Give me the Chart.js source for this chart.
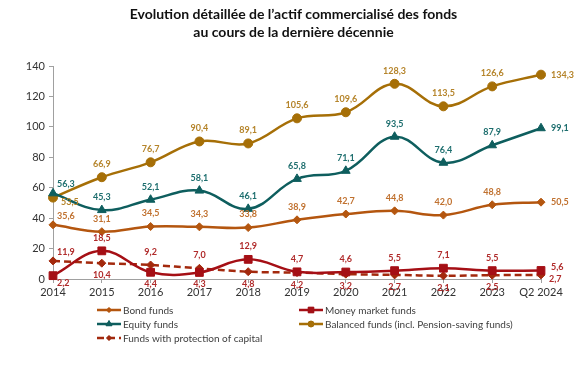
<!DOCTYPE html>
<html lang="fr">
<head>
<meta charset="UTF-8">
<title>Evolution de l'actif commercialisé des fonds</title>
<script src="https://cdn.jsdelivr.net/npm/chart.js"></script>
<style>
    html, body { margin: 0; padding: 0; background: #fff; }
    #wrap { width: 587px; height: 370px; position: relative; }
</style>
</head>
<body>
<div id="wrap"><canvas id="chart" width="587" height="370"></canvas></div>
<script>
    // données (milliards EUR)
    const years = ['2014', '2015', '2016', '2017', '2018', '2019', '2020', '2021', '2022', '2023', 'Q2 2024'];
    const bondFunds = [35.6, 31.1, 34.5, 34.3, 33.8, 38.9, 42.7, 44.8, 42.0, 48.8, 50.5];
    const moneyMarket = [2.2, 18.5, 4.4, 4.3, 12.9, 4.7, 4.6, 5.5, 7.1, 5.5, 5.6];
    const equityFunds = [56.3, 45.3, 52.1, 58.1, 46.1, 65.8, 71.1, 93.5, 76.4, 87.9, 99.1];
    const balancedFunds = [53.5, 66.9, 76.7, 90.4, 89.1, 105.6, 109.6, 128.3, 113.5, 126.6, 134.3];
    const protectedFunds = [11.9, 10.4, 9.2, 7.0, 4.8, 4.2, 3.2, 2.7, 2.1, 2.5, 2.7];
    const yTicks = [0, 20, 40, 60, 80, 100, 120, 140];
    const titleLines = ['Evolution détaillée de l\u2019actif commercialisé des fonds', 'au cours de la dernière décennie'];

    // où placer les étiquettes de valeur
    const placeBond = ['tr', 't', 't', 't', 't', 't', 't', 't', 't', 't', 'r'];
    const placeMoney = ['br', 't', 'b', 'b', 't', 't', 't', 't', 't', 't', 'ru'];
    const placeEquity = ['tr', 't', 't', 't', 't', 't', 't', 't', 't', 't', 'r'];
    const placeBalanced = ['rd', 't', 't', 't', 't', 't', 't', 't', 't', 't', 'r'];
    const placeProtected = ['tr', 'b', 't', 't', 'b', 'b', 'b', 'b', 'b', 'b', 'rd'];

    const FONT = 'Lato, "Open Sans", sans-serif';

    function serie(label, data, color, labelColor, style, radius, place, dash) {
        return {
            label: label,
            data: data,
            borderColor: color,
            backgroundColor: color,
            pointBackgroundColor: color,
            pointBorderColor: color,
            pointStyle: style,
            pointRadius: radius,
            pointHoverRadius: radius,
            pointBorderWidth: 1,
            borderWidth: 2.5,
            borderDash: dash || [],
            tension: 0.4,
            clip: false,
            fill: false,
            labelColor: labelColor,
            place: place
        };
    }

    const valueLabels = {
        id: 'valueLabels',
        afterDatasetsDraw(chart) {
            const ctx = chart.ctx;
            ctx.save();
            ctx.font = 'bold 9px ' + FONT;
            chart.data.datasets.forEach((ds, i) => {
                const meta = chart.getDatasetMeta(i);
                meta.data.forEach((pt, j) => {
                    const txt = ds.data[j].toFixed(1).replace('.', ',');
                    const p = ds.place[j];
                    let x = pt.x, y = pt.y;
                    ctx.textAlign = 'center';
                    ctx.textBaseline = 'middle';
                    if (p === 't') { y -= 13; }
                    else if (p === 'b') { y += 12; }
                    else if (p === 'r') { x += 10; ctx.textAlign = 'left'; }
                    else if (p === 'ru') { x += 10; y -= 3; ctx.textAlign = 'left'; }
                    else if (p === 'rd') { x += 8; y += 4; ctx.textAlign = 'left'; }
                    else if (p === 'tr') { x += 4; y -= 9; ctx.textAlign = 'left'; }
                    else if (p === 'br') { x += 4; y += 7; ctx.textAlign = 'left'; }
                    ctx.fillStyle = ds.labelColor;
                    ctx.fillText(txt, x, y);
                });
            });
            ctx.restore();
        }
    };

    // titre centré sur toute la largeur du canevas
    const pageTitle = {
        id: 'pageTitle',
        afterDraw(chart) {
            const ctx = chart.ctx;
            ctx.save();
            ctx.font = 'bold 14px ' + FONT;
            ctx.fillStyle = '#111';
            ctx.textAlign = 'center';
            ctx.textBaseline = 'middle';
            titleLines.forEach((t, i) => ctx.fillText(t, chart.width / 2, 14 + i * 18));
            ctx.restore();
        }
    };

    // légende sur deux colonnes, comme dans l'original
    const gridLegend = {
        id: 'gridLegend',
        afterDraw(chart) {
            const ctx = chart.ctx;
            const slots = [[97, 310], [299, 310], [97, 324], [299, 324], [97, 338]];
            ctx.save();
            ctx.font = '10px ' + FONT;
            ctx.textBaseline = 'middle';
            ctx.textAlign = 'left';
            chart.data.datasets.forEach((ds, i) => {
                const [x, y] = slots[i];
                ctx.strokeStyle = ds.borderColor;
                ctx.lineWidth = 2.5;
                ctx.setLineDash(ds.borderDash);
                ctx.beginPath();
                ctx.moveTo(x, y);
                ctx.lineTo(x + 24, y);
                ctx.stroke();
                ctx.setLineDash([]);
                ctx.lineWidth = 1;
                Chart.helpers.drawPoint(ctx, {
                    pointStyle: ds.pointStyle,
                    radius: ds.pointRadius - 1.5,
                    borderWidth: 1
                }, x + 12, y);
                ctx.fillStyle = ds.borderColor;
                ctx.fill();
                ctx.fillStyle = '#404040';
                ctx.fillText(ds.label, x + 26, y + 1);
            });
            ctx.restore();
        }
    };

    new Chart(document.getElementById('chart'), {
        type: 'line',
        data: {
            labels: years,
            datasets: [
                serie('Bond funds', bondFunds, '#B4560F', '#C0712F', 'rectRot', 4, placeBond),
                serie('Money market funds', moneyMarket, '#A50F15', '#B02A2A', 'rect', 5.5, placeMoney),
                serie('Equity funds', equityFunds, '#0E5E5E', '#1D6E6E', 'triangle', 5, placeEquity),
                serie('Balanced funds (incl. Pension-saving funds)', balancedFunds, '#A66F07', '#B5842A', 'circle', 4.5, placeBalanced),
                serie('Funds with protection of capital', protectedFunds, '#A3290D', '#B02A2A', 'rectRot', 4, placeProtected, [7, 4])
            ]
        },
        options: {
            responsive: false,
            animation: false,
            layout: { padding: { left: 0, right: 46, top: 66, bottom: 71 } },
            plugins: {
                legend: { display: false },
                tooltip: { enabled: false },
                title: { display: false }
            },
            scales: {
                x: {
                    offset: false,
                    afterFit: s => { s.height = 20; },
                    grid: { display: true, drawOnChartArea: false, tickLength: 4, color: '#A0A0A0' },
                    border: { color: '#A0A0A0' },
                    ticks: { color: '#333', font: { family: FONT, size: 11 }, padding: 3, maxRotation: 0, autoSkip: false }
                },
                y: {
                    min: 0,
                    max: 140,
                    afterFit: s => { s.width = 53; },
                    afterBuildTicks: s => { s.ticks = yTicks.map(v => ({ value: v })); },
                    grid: { display: true, drawOnChartArea: false, tickLength: 4, color: '#A0A0A0' },
                    border: { color: '#A0A0A0' },
                    ticks: { color: '#333', font: { family: FONT, size: 11 }, padding: 4 }
                }
            }
        },
        plugins: [valueLabels, pageTitle, gridLegend]
    });
</script>
</body>
</html>
